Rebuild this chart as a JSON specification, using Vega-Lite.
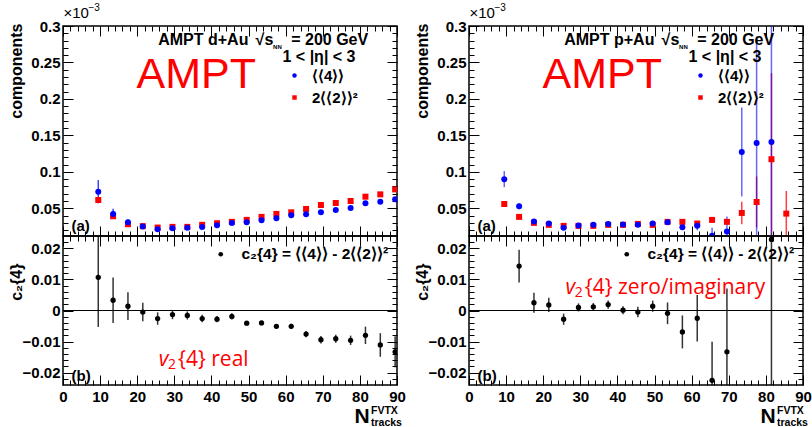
{
  "$schema": "https://vega.github.io/schema/vega-lite/v6.json",
  "padding": {"left": 7, "top": 2, "right": 2, "bottom": 0},
  "background": "white",
  "config": {
    "view": {"stroke": "black", "strokeWidth": 1.5},
    "axis": {"domain": false, "grid": false, "tickColor": "black", "tickWidth": 1, "labelFont": "Liberation Sans", "labelFontWeight": "bold", "labelFontSize": 15, "labelColor": "black", "titleFont": "Liberation Sans", "titleFontWeight": "bold", "titleColor": "black", "labelFlush": false, "labelOverlap": false, "labelBound": false}
  },
  "datasets": {
    "dAuTop": [
      {"n": 9.5, "v": 0.0614, "e": 0.002, "s": "2⟨⟨2⟩⟩²"},
      {"n": 13.5, "v": 0.0391, "e": 0.001, "s": "2⟨⟨2⟩⟩²"},
      {"n": 17.5, "v": 0.0282, "e": 0.001, "s": "2⟨⟨2⟩⟩²"},
      {"n": 21.5, "v": 0.0255, "e": 0.001, "s": "2⟨⟨2⟩⟩²"},
      {"n": 25.5, "v": 0.0236, "e": 0.001, "s": "2⟨⟨2⟩⟩²"},
      {"n": 29.5, "v": 0.0245, "e": 0.001, "s": "2⟨⟨2⟩⟩²"},
      {"n": 33.5, "v": 0.0245, "e": 0.001, "s": "2⟨⟨2⟩⟩²"},
      {"n": 37.5, "v": 0.0273, "e": 0.001, "s": "2⟨⟨2⟩⟩²"},
      {"n": 41.5, "v": 0.0295, "e": 0.001, "s": "2⟨⟨2⟩⟩²"},
      {"n": 45.5, "v": 0.0314, "e": 0.001, "s": "2⟨⟨2⟩⟩²"},
      {"n": 49.5, "v": 0.0341, "e": 0.001, "s": "2⟨⟨2⟩⟩²"},
      {"n": 53.5, "v": 0.0382, "e": 0.001, "s": "2⟨⟨2⟩⟩²"},
      {"n": 57.5, "v": 0.0423, "e": 0.001, "s": "2⟨⟨2⟩⟩²"},
      {"n": 61.5, "v": 0.0445, "e": 0.001, "s": "2⟨⟨2⟩⟩²"},
      {"n": 65.5, "v": 0.0491, "e": 0.001, "s": "2⟨⟨2⟩⟩²"},
      {"n": 69.5, "v": 0.0545, "e": 0.001, "s": "2⟨⟨2⟩⟩²"},
      {"n": 73.5, "v": 0.0573, "e": 0.001, "s": "2⟨⟨2⟩⟩²"},
      {"n": 77.5, "v": 0.06, "e": 0.001, "s": "2⟨⟨2⟩⟩²"},
      {"n": 81.5, "v": 0.0659, "e": 0.001, "s": "2⟨⟨2⟩⟩²"},
      {"n": 85.5, "v": 0.0691, "e": 0.001, "s": "2⟨⟨2⟩⟩²"},
      {"n": 89.5, "v": 0.0759, "e": 0.001, "s": "2⟨⟨2⟩⟩²"},
      {"n": 9.5, "v": 0.0727, "e": 0.016, "s": "⟨⟨4⟩⟩"},
      {"n": 13.5, "v": 0.0423, "e": 0.007, "s": "⟨⟨4⟩⟩"},
      {"n": 17.5, "v": 0.0309, "e": 0.004, "s": "⟨⟨4⟩⟩"},
      {"n": 21.5, "v": 0.025, "e": 0.002, "s": "⟨⟨4⟩⟩"},
      {"n": 25.5, "v": 0.0214, "e": 0.0015, "s": "⟨⟨4⟩⟩"},
      {"n": 29.5, "v": 0.0227, "e": 0.0012, "s": "⟨⟨4⟩⟩"},
      {"n": 33.5, "v": 0.0232, "e": 0.0012, "s": "⟨⟨4⟩⟩"},
      {"n": 37.5, "v": 0.0245, "e": 0.0012, "s": "⟨⟨4⟩⟩"},
      {"n": 41.5, "v": 0.0268, "e": 0.0012, "s": "⟨⟨4⟩⟩"},
      {"n": 45.5, "v": 0.03, "e": 0.0012, "s": "⟨⟨4⟩⟩"},
      {"n": 49.5, "v": 0.0309, "e": 0.0012, "s": "⟨⟨4⟩⟩"},
      {"n": 53.5, "v": 0.0336, "e": 0.0012, "s": "⟨⟨4⟩⟩"},
      {"n": 57.5, "v": 0.0364, "e": 0.0012, "s": "⟨⟨4⟩⟩"},
      {"n": 61.5, "v": 0.0405, "e": 0.0012, "s": "⟨⟨4⟩⟩"},
      {"n": 65.5, "v": 0.0418, "e": 0.0012, "s": "⟨⟨4⟩⟩"},
      {"n": 69.5, "v": 0.0445, "e": 0.0012, "s": "⟨⟨4⟩⟩"},
      {"n": 73.5, "v": 0.0477, "e": 0.0012, "s": "⟨⟨4⟩⟩"},
      {"n": 77.5, "v": 0.0505, "e": 0.0012, "s": "⟨⟨4⟩⟩"},
      {"n": 81.5, "v": 0.0568, "e": 0.0015, "s": "⟨⟨4⟩⟩"},
      {"n": 85.5, "v": 0.0591, "e": 0.0015, "s": "⟨⟨4⟩⟩"},
      {"n": 89.5, "v": 0.0623, "e": 0.003, "s": "⟨⟨4⟩⟩"}
    ],
    "pAuTop": [
      {"n": 9.5, "v": 0.0559, "e": 0.001, "s": "2⟨⟨2⟩⟩²"},
      {"n": 13.5, "v": 0.0382, "e": 0.001, "s": "2⟨⟨2⟩⟩²"},
      {"n": 17.5, "v": 0.03, "e": 0.001, "s": "2⟨⟨2⟩⟩²"},
      {"n": 21.5, "v": 0.0273, "e": 0.001, "s": "2⟨⟨2⟩⟩²"},
      {"n": 25.5, "v": 0.0259, "e": 0.001, "s": "2⟨⟨2⟩⟩²"},
      {"n": 29.5, "v": 0.0259, "e": 0.001, "s": "2⟨⟨2⟩⟩²"},
      {"n": 33.5, "v": 0.0259, "e": 0.001, "s": "2⟨⟨2⟩⟩²"},
      {"n": 37.5, "v": 0.0273, "e": 0.001, "s": "2⟨⟨2⟩⟩²"},
      {"n": 41.5, "v": 0.0273, "e": 0.001, "s": "2⟨⟨2⟩⟩²"},
      {"n": 45.5, "v": 0.0286, "e": 0.001, "s": "2⟨⟨2⟩⟩²"},
      {"n": 49.5, "v": 0.0273, "e": 0.001, "s": "2⟨⟨2⟩⟩²"},
      {"n": 53.5, "v": 0.0314, "e": 0.001, "s": "2⟨⟨2⟩⟩²"},
      {"n": 57.5, "v": 0.0314, "e": 0.001, "s": "2⟨⟨2⟩⟩²"},
      {"n": 61.5, "v": 0.0291, "e": 0.002, "s": "2⟨⟨2⟩⟩²"},
      {"n": 65.5, "v": 0.0341, "e": 0.002, "s": "2⟨⟨2⟩⟩²"},
      {"n": 69.5, "v": 0.0314, "e": 0.003, "s": "2⟨⟨2⟩⟩²"},
      {"n": 73.5, "v": 0.0436, "e": 0.0155, "s": "2⟨⟨2⟩⟩²"},
      {"n": 77.5, "v": 0.0586, "e": 0.035, "s": "2⟨⟨2⟩⟩²"},
      {"n": 81.5, "v": 0.1173, "e": 0.118, "s": "2⟨⟨2⟩⟩²"},
      {"n": 85.5, "v": 0.0427, "e": 0.031, "s": "2⟨⟨2⟩⟩²"},
      {"n": 9.5, "v": 0.09, "e": 0.011, "s": "⟨⟨4⟩⟩"},
      {"n": 13.5, "v": 0.0527, "e": 0.004, "s": "⟨⟨4⟩⟩"},
      {"n": 17.5, "v": 0.0318, "e": 0.002, "s": "⟨⟨4⟩⟩"},
      {"n": 21.5, "v": 0.0291, "e": 0.002, "s": "⟨⟨4⟩⟩"},
      {"n": 25.5, "v": 0.0232, "e": 0.002, "s": "⟨⟨4⟩⟩"},
      {"n": 29.5, "v": 0.0264, "e": 0.002, "s": "⟨⟨4⟩⟩"},
      {"n": 33.5, "v": 0.0273, "e": 0.002, "s": "⟨⟨4⟩⟩"},
      {"n": 37.5, "v": 0.0286, "e": 0.002, "s": "⟨⟨4⟩⟩"},
      {"n": 41.5, "v": 0.0277, "e": 0.002, "s": "⟨⟨4⟩⟩"},
      {"n": 45.5, "v": 0.0273, "e": 0.003, "s": "⟨⟨4⟩⟩"},
      {"n": 49.5, "v": 0.0291, "e": 0.002, "s": "⟨⟨4⟩⟩"},
      {"n": 53.5, "v": 0.0309, "e": 0.002, "s": "⟨⟨4⟩⟩"},
      {"n": 57.5, "v": 0.0241, "e": 0.004, "s": "⟨⟨4⟩⟩"},
      {"n": 61.5, "v": 0.0259, "e": 0.006, "s": "⟨⟨4⟩⟩"},
      {"n": 65.5, "v": 0.0123, "e": 0.011, "s": "⟨⟨4⟩⟩"},
      {"n": 69.5, "v": 0.0182, "e": 0.0205, "s": "⟨⟨4⟩⟩"},
      {"n": 73.5, "v": 0.1273, "e": 0.061, "s": "⟨⟨4⟩⟩"},
      {"n": 77.5, "v": 0.1395, "e": 0.146, "s": "⟨⟨4⟩⟩"},
      {"n": 81.5, "v": 0.1409, "e": 0.3, "s": "⟨⟨4⟩⟩"}
    ],
    "dAuBot": [
      {"n": 9.5, "c": 0.0107, "e": 0.016},
      {"n": 13.5, "c": 0.0033, "e": 0.0073},
      {"n": 17.5, "c": 0.0014, "e": 0.0045},
      {"n": 21.5, "c": -0.0005, "e": 0.003},
      {"n": 25.5, "c": -0.0026, "e": 0.002},
      {"n": 29.5, "c": -0.0013, "e": 0.0015},
      {"n": 33.5, "c": -0.0016, "e": 0.0013},
      {"n": 37.5, "c": -0.0026, "e": 0.0012},
      {"n": 41.5, "c": -0.0028, "e": 0.001},
      {"n": 45.5, "c": -0.0019, "e": 0.001},
      {"n": 49.5, "c": -0.0041, "e": 0.0007},
      {"n": 53.5, "c": -0.004, "e": 0.0007},
      {"n": 57.5, "c": -0.0051, "e": 0.0007},
      {"n": 61.5, "c": -0.0051, "e": 0.0008},
      {"n": 65.5, "c": -0.0076, "e": 0.001},
      {"n": 69.5, "c": -0.0094, "e": 0.0012},
      {"n": 73.5, "c": -0.0091, "e": 0.0013},
      {"n": 77.5, "c": -0.0096, "e": 0.0015},
      {"n": 81.5, "c": -0.008, "e": 0.0028},
      {"n": 85.5, "c": -0.0111, "e": 0.0038},
      {"n": 89.5, "c": -0.0133, "e": 0.005}
    ],
    "pAuBot": [
      {"n": 13.5, "c": 0.0143, "e": 0.0053},
      {"n": 17.5, "c": 0.0025, "e": 0.0032},
      {"n": 21.5, "c": 0.0018, "e": 0.0023},
      {"n": 25.5, "c": -0.0028, "e": 0.0018},
      {"n": 29.5, "c": 0.001, "e": 0.0013},
      {"n": 33.5, "c": 0.0012, "e": 0.0012},
      {"n": 37.5, "c": 0.0019, "e": 0.0013},
      {"n": 41.5, "c": 0.0001, "e": 0.0013},
      {"n": 45.5, "c": -0.0005, "e": 0.0017},
      {"n": 49.5, "c": 0.0014, "e": 0.0018},
      {"n": 53.5, "c": -0.0009, "e": 0.0035},
      {"n": 57.5, "c": -0.0069, "e": 0.0053},
      {"n": 61.5, "c": -0.0025, "e": 0.0075},
      {"n": 65.5, "c": -0.0225, "e": 0.0124},
      {"n": 69.5, "c": -0.0133, "e": 0.0204},
      {"n": 81.5, "c": 0.0229, "e": 0.1}
    ]
  },
  "resolve": {"scale": {"color": "independent", "shape": "independent"}, "legend": {"color": "independent", "shape": "independent"}},
  "columns": 2,
  "spacing": {"row": 0, "column": 72},
  "bounds": "flush",
  "align": "each",
  "concat": [
    {
      "width": 334, "height": 210,
      "data": {"name": "dAuTop"},
      "resolve": {"axis": {"x": "independent", "y": "independent"}},
      "layer": [
        {
          "transform": [{"filter": {"field": "s", "equal": "2⟨⟨2⟩⟩²"}}],
          "mark": {"type": "errorbar", "clip": true, "thickness": 1.5, "opacity": 0.75, "color": "#ff0000"},
          "encoding": {
            "x": {"field": "n", "type": "quantitative", "scale": {"domain": [0, 90], "nice": false, "zero": false}, "axis": {"orient": "bottom", "values": [0,10,20,30,40,50,60,70,80,90], "tickSize": -10, "labels": false, "title": null}},
            "y": {"field": "v", "type": "quantitative", "scale": {"domain": [0.012, 0.3], "nice": false, "zero": false}, "axis": {"orient": "left", "values": [0.05,0.1,0.15,0.2,0.25,0.3], "tickSize": -10, "labelPadding": 13, "format": "~g", "title": "components", "titleAngle": 270, "titleAlign": "right", "titleBaseline": "alphabetic", "titleX": -41.5, "titleY": -3, "titleFontSize": 16}},
            "yError": {"field": "e"}
          }
        },
        {
          "transform": [{"filter": {"field": "s", "equal": "⟨⟨4⟩⟩"}}],
          "mark": {"type": "errorbar", "clip": true, "thickness": 1.5, "opacity": 0.75, "color": "#0000ff"},
          "encoding": {
            "x": {"field": "n", "type": "quantitative", "axis": null},
            "y": {"field": "v", "type": "quantitative", "axis": null},
            "yError": {"field": "e"}
          }
        },
        {
          "mark": {"type": "point", "filled": true, "size": 36, "opacity": 1, "clip": true},
          "encoding": {
            "x": {"field": "n", "type": "quantitative", "axis": {"orient": "bottom", "values": [2,4,6,8,12,14,16,18,22,24,26,28,32,34,36,38,42,44,46,48,52,54,56,58,62,64,66,68,72,74,76,78,82,84,86,88], "tickSize": -5, "labels": false, "title": null}},
            "y": {"field": "v", "type": "quantitative", "axis": {"orient": "left", "values": [0.02,0.03,0.04,0.06,0.07,0.08,0.09,0.11,0.12,0.13,0.14,0.16,0.17,0.18,0.19,0.21,0.22,0.23,0.24,0.26,0.27,0.28,0.29], "tickSize": -5, "labels": false, "title": null}},
            "color": {"field": "s", "type": "nominal", "scale": {"domain": ["⟨⟨4⟩⟩", "2⟨⟨2⟩⟩²"], "range": ["#0000ff", "#ff0000"]}, "legend": {"title": null, "orient": "none", "legendX": 224, "legendY": 42, "labelFont": "Liberation Sans", "labelFontWeight": "bold", "labelFontSize": 15, "labelColor": "black", "symbolSize": 20, "rowPadding": 6, "labelOffset": 10, "padding": 0, "labelLimit": 300, "symbolStrokeWidth": 0}},
            "shape": {"field": "s", "type": "nominal", "scale": {"domain": ["⟨⟨4⟩⟩", "2⟨⟨2⟩⟩²"], "range": ["circle", "square"]}, "legend": {"title": null, "orient": "none", "legendX": 224, "legendY": 42, "labelFont": "Liberation Sans", "labelFontWeight": "bold", "labelFontSize": 15, "labelColor": "black", "symbolSize": 20, "rowPadding": 6, "labelOffset": 10, "padding": 0, "labelLimit": 300, "symbolStrokeWidth": 0}}
          }
        },
        {
          "mark": {"type": "point", "opacity": 0},
          "encoding": {
            "x": {"field": "n", "type": "quantitative", "axis": {"orient": "top", "values": [0,10,20,30,40,50,60,70,80,90], "tickSize": -10, "labels": false, "title": null}},
            "y": {"field": "v", "type": "quantitative", "axis": {"orient": "right", "values": [0.05,0.1,0.15,0.2,0.25,0.3], "tickSize": -10, "labels": false, "title": null}}
          }
        },
        {
          "mark": {"type": "point", "opacity": 0},
          "encoding": {
            "x": {"field": "n", "type": "quantitative", "axis": {"orient": "top", "values": [2,4,6,8,12,14,16,18,22,24,26,28,32,34,36,38,42,44,46,48,52,54,56,58,62,64,66,68,72,74,76,78,82,84,86,88], "tickSize": -5, "labels": false, "title": null}},
            "y": {"field": "v", "type": "quantitative", "axis": {"orient": "right", "values": [0.02,0.03,0.04,0.06,0.07,0.08,0.09,0.11,0.12,0.13,0.14,0.16,0.17,0.18,0.19,0.21,0.22,0.23,0.24,0.26,0.27,0.28,0.29], "tickSize": -5, "labels": false, "title": null}}
          }
        },
        {"data": {"values": [{}]}, "mark": {"type": "text", "text": "AMPT d+Au", "font": "Liberation Sans", "fontWeight": "bold", "fontSize": 16, "align": "left", "baseline": "alphabetic", "color": "black"},
         "encoding": {"x": {"datum": 25.65, "type": "quantitative", "axis": null}, "y": {"datum": 0.2739, "type": "quantitative", "axis": null}}},
        {"data": {"values": [{}]}, "mark": {"type": "text", "text": "√s", "font": "Liberation Sans", "fontWeight": "bold", "fontSize": 16, "align": "left", "baseline": "alphabetic", "color": "black"},
         "encoding": {"x": {"datum": 51.9, "type": "quantitative", "axis": null}, "y": {"datum": 0.2739, "type": "quantitative", "axis": null}}},
        {"data": {"values": [{}]}, "mark": {"type": "text", "text": "NN", "font": "Liberation Sans", "fontWeight": "bold", "fontSize": 6, "align": "left", "baseline": "alphabetic", "color": "black"},
         "encoding": {"x": {"datum": 56.6, "type": "quantitative", "axis": null}, "y": {"datum": 0.2691, "type": "quantitative", "axis": null}}},
        {"data": {"values": [{}]}, "mark": {"type": "text", "text": "= 200 GeV", "font": "Liberation Sans", "fontWeight": "bold", "fontSize": 16, "align": "right", "baseline": "alphabetic", "color": "black"},
         "encoding": {"x": {"datum": 82.24, "type": "quantitative", "axis": null}, "y": {"datum": 0.2739, "type": "quantitative", "axis": null}}},
        {"data": {"values": [{}]}, "mark": {"type": "text", "text": "1 < |η| < 3", "font": "Liberation Sans", "fontWeight": "bold", "fontSize": 16, "align": "center", "baseline": "alphabetic", "color": "black"},
         "encoding": {"x": {"datum": 68.98, "type": "quantitative", "axis": null}, "y": {"datum": 0.2506, "type": "quantitative", "axis": null}}},
        {"data": {"values": [{}]}, "mark": {"type": "text", "text": "AMPT", "font": "Liberation Sans", "fontSize": 43, "align": "left", "baseline": "alphabetic", "color": "#ff0000"},
         "encoding": {"x": {"datum": 19.8, "type": "quantitative", "axis": null}, "y": {"datum": 0.2154, "type": "quantitative", "axis": null}}},
        {"data": {"values": [{}]}, "mark": {"type": "text", "text": "×10", "font": "Liberation Sans", "fontSize": 15, "align": "left", "baseline": "alphabetic", "color": "black"},
         "encoding": {"x": {"datum": 0.13, "type": "quantitative", "axis": null}, "y": {"datum": 0.311, "type": "quantitative", "axis": null}}},
        {"data": {"values": [{}]}, "mark": {"type": "text", "text": "−3", "font": "Liberation Sans", "fontSize": 10, "align": "left", "baseline": "alphabetic", "color": "black"},
         "encoding": {"x": {"datum": 6.87, "type": "quantitative", "axis": null}, "y": {"datum": 0.3206, "type": "quantitative", "axis": null}}},
        {"data": {"values": [{}]}, "mark": {"type": "text", "text": "(a)", "font": "Liberation Sans", "fontWeight": "bold", "fontSize": 15, "align": "left", "baseline": "alphabetic", "color": "black"},
         "encoding": {"x": {"datum": 2.29, "type": "quantitative", "axis": null}, "y": {"datum": 0.0188, "type": "quantitative", "axis": null}}}
      ]
    },
    {
      "width": 334, "height": 210,
      "data": {"name": "pAuTop"},
      "resolve": {"axis": {"x": "independent", "y": "independent"}},
      "layer": [
        {
          "transform": [{"filter": {"field": "s", "equal": "2⟨⟨2⟩⟩²"}}],
          "mark": {"type": "errorbar", "clip": true, "thickness": 1.5, "opacity": 0.75, "color": "#ff0000"},
          "encoding": {
            "x": {"field": "n", "type": "quantitative", "scale": {"domain": [0, 90], "nice": false, "zero": false}, "axis": {"orient": "bottom", "values": [0,10,20,30,40,50,60,70,80,90], "tickSize": -10, "labels": false, "title": null}},
            "y": {"field": "v", "type": "quantitative", "scale": {"domain": [0.012, 0.3], "nice": false, "zero": false}, "axis": {"orient": "left", "values": [0.05,0.1,0.15,0.2,0.25,0.3], "tickSize": -10, "labelPadding": 13, "format": "~g", "title": "components", "titleAngle": 270, "titleAlign": "right", "titleBaseline": "alphabetic", "titleX": -41.5, "titleY": -3, "titleFontSize": 16}},
            "yError": {"field": "e"}
          }
        },
        {
          "transform": [{"filter": {"field": "s", "equal": "⟨⟨4⟩⟩"}}],
          "mark": {"type": "errorbar", "clip": true, "thickness": 1.5, "opacity": 0.6, "color": "#0000ff"},
          "encoding": {
            "x": {"field": "n", "type": "quantitative", "axis": null},
            "y": {"field": "v", "type": "quantitative", "axis": null},
            "yError": {"field": "e"}
          }
        },
        {
          "mark": {"type": "point", "filled": true, "size": 36, "opacity": 1, "clip": true},
          "encoding": {
            "x": {"field": "n", "type": "quantitative", "axis": {"orient": "bottom", "values": [2,4,6,8,12,14,16,18,22,24,26,28,32,34,36,38,42,44,46,48,52,54,56,58,62,64,66,68,72,74,76,78,82,84,86,88], "tickSize": -5, "labels": false, "title": null}},
            "y": {"field": "v", "type": "quantitative", "axis": {"orient": "left", "values": [0.02,0.03,0.04,0.06,0.07,0.08,0.09,0.11,0.12,0.13,0.14,0.16,0.17,0.18,0.19,0.21,0.22,0.23,0.24,0.26,0.27,0.28,0.29], "tickSize": -5, "labels": false, "title": null}},
            "color": {"field": "s", "type": "nominal", "scale": {"domain": ["⟨⟨4⟩⟩", "2⟨⟨2⟩⟩²"], "range": ["#0000ff", "#ff0000"]}, "legend": {"title": null, "orient": "none", "legendX": 224, "legendY": 42, "labelFont": "Liberation Sans", "labelFontWeight": "bold", "labelFontSize": 15, "labelColor": "black", "symbolSize": 20, "rowPadding": 6, "labelOffset": 10, "padding": 0, "labelLimit": 300, "symbolStrokeWidth": 0}},
            "shape": {"field": "s", "type": "nominal", "scale": {"domain": ["⟨⟨4⟩⟩", "2⟨⟨2⟩⟩²"], "range": ["circle", "square"]}, "legend": {"title": null, "orient": "none", "legendX": 224, "legendY": 42, "labelFont": "Liberation Sans", "labelFontWeight": "bold", "labelFontSize": 15, "labelColor": "black", "symbolSize": 20, "rowPadding": 6, "labelOffset": 10, "padding": 0, "labelLimit": 300, "symbolStrokeWidth": 0}}
          }
        },
        {
          "mark": {"type": "point", "opacity": 0},
          "encoding": {
            "x": {"field": "n", "type": "quantitative", "axis": {"orient": "top", "values": [0,10,20,30,40,50,60,70,80,90], "tickSize": -10, "labels": false, "title": null}},
            "y": {"field": "v", "type": "quantitative", "axis": {"orient": "right", "values": [0.05,0.1,0.15,0.2,0.25,0.3], "tickSize": -10, "labels": false, "title": null}}
          }
        },
        {
          "mark": {"type": "point", "opacity": 0},
          "encoding": {
            "x": {"field": "n", "type": "quantitative", "axis": {"orient": "top", "values": [2,4,6,8,12,14,16,18,22,24,26,28,32,34,36,38,42,44,46,48,52,54,56,58,62,64,66,68,72,74,76,78,82,84,86,88], "tickSize": -5, "labels": false, "title": null}},
            "y": {"field": "v", "type": "quantitative", "axis": {"orient": "right", "values": [0.02,0.03,0.04,0.06,0.07,0.08,0.09,0.11,0.12,0.13,0.14,0.16,0.17,0.18,0.19,0.21,0.22,0.23,0.24,0.26,0.27,0.28,0.29], "tickSize": -5, "labels": false, "title": null}}
          }
        },
        {"data": {"values": [{}]}, "mark": {"type": "text", "text": "AMPT p+Au", "font": "Liberation Sans", "fontWeight": "bold", "fontSize": 16, "align": "left", "baseline": "alphabetic", "color": "black"},
         "encoding": {"x": {"datum": 25.65, "type": "quantitative", "axis": null}, "y": {"datum": 0.2739, "type": "quantitative", "axis": null}}},
        {"data": {"values": [{}]}, "mark": {"type": "text", "text": "√s", "font": "Liberation Sans", "fontWeight": "bold", "fontSize": 16, "align": "left", "baseline": "alphabetic", "color": "black"},
         "encoding": {"x": {"datum": 51.9, "type": "quantitative", "axis": null}, "y": {"datum": 0.2739, "type": "quantitative", "axis": null}}},
        {"data": {"values": [{}]}, "mark": {"type": "text", "text": "NN", "font": "Liberation Sans", "fontWeight": "bold", "fontSize": 6, "align": "left", "baseline": "alphabetic", "color": "black"},
         "encoding": {"x": {"datum": 56.6, "type": "quantitative", "axis": null}, "y": {"datum": 0.2691, "type": "quantitative", "axis": null}}},
        {"data": {"values": [{}]}, "mark": {"type": "text", "text": "= 200 GeV", "font": "Liberation Sans", "fontWeight": "bold", "fontSize": 16, "align": "right", "baseline": "alphabetic", "color": "black"},
         "encoding": {"x": {"datum": 82.24, "type": "quantitative", "axis": null}, "y": {"datum": 0.2739, "type": "quantitative", "axis": null}}},
        {"data": {"values": [{}]}, "mark": {"type": "text", "text": "1 < |η| < 3", "font": "Liberation Sans", "fontWeight": "bold", "fontSize": 16, "align": "center", "baseline": "alphabetic", "color": "black"},
         "encoding": {"x": {"datum": 68.98, "type": "quantitative", "axis": null}, "y": {"datum": 0.2506, "type": "quantitative", "axis": null}}},
        {"data": {"values": [{}]}, "mark": {"type": "text", "text": "AMPT", "font": "Liberation Sans", "fontSize": 43, "align": "left", "baseline": "alphabetic", "color": "#ff0000"},
         "encoding": {"x": {"datum": 19.8, "type": "quantitative", "axis": null}, "y": {"datum": 0.2154, "type": "quantitative", "axis": null}}},
        {"data": {"values": [{}]}, "mark": {"type": "text", "text": "×10", "font": "Liberation Sans", "fontSize": 15, "align": "left", "baseline": "alphabetic", "color": "black"},
         "encoding": {"x": {"datum": 0.13, "type": "quantitative", "axis": null}, "y": {"datum": 0.311, "type": "quantitative", "axis": null}}},
        {"data": {"values": [{}]}, "mark": {"type": "text", "text": "−3", "font": "Liberation Sans", "fontSize": 10, "align": "left", "baseline": "alphabetic", "color": "black"},
         "encoding": {"x": {"datum": 6.87, "type": "quantitative", "axis": null}, "y": {"datum": 0.3206, "type": "quantitative", "axis": null}}},
        {"data": {"values": [{}]}, "mark": {"type": "text", "text": "(a)", "font": "Liberation Sans", "fontWeight": "bold", "fontSize": 15, "align": "left", "baseline": "alphabetic", "color": "black"},
         "encoding": {"x": {"datum": 2.29, "type": "quantitative", "axis": null}, "y": {"datum": 0.0188, "type": "quantitative", "axis": null}}}
      ]
    },
    {
      "width": 334, "height": 149,
      "data": {"name": "dAuBot"},
      "resolve": {"axis": {"x": "independent", "y": "independent"}},
      "layer": [
        {"data": {"values": [{}]}, "mark": {"type": "rule", "color": "black", "strokeWidth": 1},
         "encoding": {"y": {"datum": 0, "type": "quantitative", "axis": null}}},
        {
          "mark": {"type": "errorbar", "clip": true, "thickness": 1.5, "color": "black", "opacity": 0.8},
          "encoding": {
            "x": {"field": "n", "type": "quantitative", "scale": {"domain": [0, 90], "nice": false, "zero": false}, "axis": {"orient": "bottom", "values": [0,10,20,30,40,50,60,70,80,90], "tickSize": -10, "labelPadding": 14, "title": "N", "titleX": 291, "titleY": 37.5, "titleAlign": "left", "titleBaseline": "alphabetic", "titleFontSize": 21}},
            "y": {"field": "c", "type": "quantitative", "scale": {"domain": [-0.024, 0.024], "nice": false, "zero": false}, "axis": {"orient": "left", "values": [-0.02,-0.01,0,0.01,0.02], "tickSize": -10, "labelPadding": 13, "format": "~g", "title": "c₂{4}", "titleAngle": 270, "titleAlign": "right", "titleBaseline": "alphabetic", "titleX": -41.5, "titleY": 27, "titleFontSize": 16}},
            "yError": {"field": "e"}
          }
        },
        {
          "mark": {"type": "point", "filled": true, "size": 28, "opacity": 1, "clip": true},
          "encoding": {
            "x": {"field": "n", "type": "quantitative", "axis": {"orient": "bottom", "values": [2,4,6,8,12,14,16,18,22,24,26,28,32,34,36,38,42,44,46,48,52,54,56,58,62,64,66,68,72,74,76,78,82,84,86,88], "tickSize": -5, "labels": false, "title": null}},
            "y": {"field": "c", "type": "quantitative", "axis": {"orient": "left", "values": [-0.022,-0.018,-0.016,-0.014,-0.012,-0.008,-0.006,-0.004,-0.002,0.002,0.004,0.006,0.008,0.012,0.014,0.016,0.018,0.022], "tickSize": -5, "labels": false, "title": null}},
            "color": {"datum": "c₂{4} = ⟨⟨4⟩⟩ - 2⟨⟨2⟩⟩²", "scale": {"range": ["black"]}, "legend": {"title": null, "orient": "none", "legendX": 150, "legendY": 10.5, "labelFont": "Liberation Sans", "labelFontWeight": "bold", "labelFontSize": 15.5, "labelColor": "black", "symbolSize": 22, "labelOffset": 13, "padding": 0, "labelLimit": 400, "symbolStrokeWidth": 0, "symbolType": "circle"}}
          }
        },
        {
          "mark": {"type": "point", "opacity": 0},
          "encoding": {
            "x": {"field": "n", "type": "quantitative", "axis": {"orient": "top", "values": [0,10,20,30,40,50,60,70,80,90], "tickSize": -10, "labels": false, "title": null}},
            "y": {"field": "c", "type": "quantitative", "axis": {"orient": "right", "values": [-0.02,-0.01,0,0.01,0.02], "tickSize": -10, "labels": false, "title": null}}
          }
        },
        {
          "mark": {"type": "point", "opacity": 0},
          "encoding": {
            "x": {"field": "n", "type": "quantitative", "axis": {"orient": "top", "values": [2,4,6,8,12,14,16,18,22,24,26,28,32,34,36,38,42,44,46,48,52,54,56,58,62,64,66,68,72,74,76,78,82,84,86,88], "tickSize": -5, "labels": false, "title": null}},
            "y": {"field": "c", "type": "quantitative", "axis": {"orient": "right", "values": [-0.022,-0.018,-0.016,-0.014,-0.012,-0.008,-0.006,-0.004,-0.002,0.002,0.004,0.006,0.008,0.012,0.014,0.016,0.018,0.022], "tickSize": -5, "labels": false, "title": null}}
          }
        },
        {"data": {"values": [{}]}, "mark": {"type": "text", "text": "(b)", "font": "Liberation Sans", "fontWeight": "bold", "fontSize": 15, "align": "left", "baseline": "alphabetic", "color": "black"},
         "encoding": {"x": {"datum": 2.29, "type": "quantitative", "axis": null}, "y": {"datum": -0.0227, "type": "quantitative", "axis": null}}},
        {"data": {"values": [{}]}, "mark": {"type": "text", "text": "v", "font": "Open Sans", "fontStyle": "italic", "fontSize": 21, "align": "left", "baseline": "alphabetic", "color": "#ff0000"},
         "encoding": {"x": {"datum": 25.8, "type": "quantitative", "axis": null}, "y": {"datum": -0.0179, "type": "quantitative", "axis": null}}},
        {"data": {"values": [{}]}, "mark": {"type": "text", "text": "2", "font": "Open Sans", "fontSize": 14, "align": "left", "baseline": "alphabetic", "color": "#ff0000"},
         "encoding": {"x": {"datum": 28.3, "type": "quantitative", "axis": null}, "y": {"datum": -0.0189, "type": "quantitative", "axis": null}}},
        {"data": {"values": [{}]}, "mark": {"type": "text", "text": "{4}  real", "font": "Open Sans", "fontSize": 21, "align": "left", "baseline": "alphabetic", "color": "#ff0000"},
         "encoding": {"x": {"datum": 31.0, "type": "quantitative", "axis": null}, "y": {"datum": -0.0179, "type": "quantitative", "axis": null}}},
        {"data": {"values": [{}]}, "mark": {"type": "text", "text": "FVTX", "font": "Liberation Sans", "fontWeight": "bold", "fontSize": 10.5, "align": "left", "baseline": "alphabetic", "color": "black"},
         "encoding": {"x": {"datum": 83.0, "type": "quantitative", "axis": null}, "y": {"datum": -0.0332, "type": "quantitative", "axis": null}}},
        {"data": {"values": [{}]}, "mark": {"type": "text", "text": "tracks", "font": "Liberation Sans", "fontWeight": "bold", "fontSize": 10.5, "align": "left", "baseline": "alphabetic", "color": "black"},
         "encoding": {"x": {"datum": 83.0, "type": "quantitative", "axis": null}, "y": {"datum": -0.0372, "type": "quantitative", "axis": null}}}
      ]
    },
    {
      "width": 334, "height": 149,
      "data": {"name": "pAuBot"},
      "resolve": {"axis": {"x": "independent", "y": "independent"}},
      "layer": [
        {"data": {"values": [{}]}, "mark": {"type": "rule", "color": "black", "strokeWidth": 1},
         "encoding": {"y": {"datum": 0, "type": "quantitative", "axis": null}}},
        {
          "mark": {"type": "errorbar", "clip": true, "thickness": 1.5, "color": "black", "opacity": 0.8},
          "encoding": {
            "x": {"field": "n", "type": "quantitative", "scale": {"domain": [0, 90], "nice": false, "zero": false}, "axis": {"orient": "bottom", "values": [0,10,20,30,40,50,60,70,80,90], "tickSize": -10, "labelPadding": 14, "title": "N", "titleX": 291, "titleY": 37.5, "titleAlign": "left", "titleBaseline": "alphabetic", "titleFontSize": 21}},
            "y": {"field": "c", "type": "quantitative", "scale": {"domain": [-0.024, 0.024], "nice": false, "zero": false}, "axis": {"orient": "left", "values": [-0.02,-0.01,0,0.01,0.02], "tickSize": -10, "labelPadding": 13, "format": "~g", "title": "c₂{4}", "titleAngle": 270, "titleAlign": "right", "titleBaseline": "alphabetic", "titleX": -41.5, "titleY": 27, "titleFontSize": 16}},
            "yError": {"field": "e"}
          }
        },
        {
          "mark": {"type": "point", "filled": true, "size": 28, "opacity": 1, "clip": true},
          "encoding": {
            "x": {"field": "n", "type": "quantitative", "axis": {"orient": "bottom", "values": [2,4,6,8,12,14,16,18,22,24,26,28,32,34,36,38,42,44,46,48,52,54,56,58,62,64,66,68,72,74,76,78,82,84,86,88], "tickSize": -5, "labels": false, "title": null}},
            "y": {"field": "c", "type": "quantitative", "axis": {"orient": "left", "values": [-0.022,-0.018,-0.016,-0.014,-0.012,-0.008,-0.006,-0.004,-0.002,0.002,0.004,0.006,0.008,0.012,0.014,0.016,0.018,0.022], "tickSize": -5, "labels": false, "title": null}},
            "color": {"datum": "c₂{4} = ⟨⟨4⟩⟩ - 2⟨⟨2⟩⟩²", "scale": {"range": ["black"]}, "legend": {"title": null, "orient": "none", "legendX": 150, "legendY": 10.5, "labelFont": "Liberation Sans", "labelFontWeight": "bold", "labelFontSize": 15.5, "labelColor": "black", "symbolSize": 22, "labelOffset": 13, "padding": 0, "labelLimit": 400, "symbolStrokeWidth": 0, "symbolType": "circle"}}
          }
        },
        {
          "mark": {"type": "point", "opacity": 0},
          "encoding": {
            "x": {"field": "n", "type": "quantitative", "axis": {"orient": "top", "values": [0,10,20,30,40,50,60,70,80,90], "tickSize": -10, "labels": false, "title": null}},
            "y": {"field": "c", "type": "quantitative", "axis": {"orient": "right", "values": [-0.02,-0.01,0,0.01,0.02], "tickSize": -10, "labels": false, "title": null}}
          }
        },
        {
          "mark": {"type": "point", "opacity": 0},
          "encoding": {
            "x": {"field": "n", "type": "quantitative", "axis": {"orient": "top", "values": [2,4,6,8,12,14,16,18,22,24,26,28,32,34,36,38,42,44,46,48,52,54,56,58,62,64,66,68,72,74,76,78,82,84,86,88], "tickSize": -5, "labels": false, "title": null}},
            "y": {"field": "c", "type": "quantitative", "axis": {"orient": "right", "values": [-0.022,-0.018,-0.016,-0.014,-0.012,-0.008,-0.006,-0.004,-0.002,0.002,0.004,0.006,0.008,0.012,0.014,0.016,0.018,0.022], "tickSize": -5, "labels": false, "title": null}}
          }
        },
        {"data": {"values": [{}]}, "mark": {"type": "text", "text": "(b)", "font": "Liberation Sans", "fontWeight": "bold", "fontSize": 15, "align": "left", "baseline": "alphabetic", "color": "black"},
         "encoding": {"x": {"datum": 2.29, "type": "quantitative", "axis": null}, "y": {"datum": -0.0227, "type": "quantitative", "axis": null}}},
        {"data": {"values": [{}]}, "mark": {"type": "text", "text": "v", "font": "Open Sans", "fontStyle": "italic", "fontSize": 21, "align": "left", "baseline": "alphabetic", "color": "#ff0000"},
         "encoding": {"x": {"datum": 26.0, "type": "quantitative", "axis": null}, "y": {"datum": 0.0054, "type": "quantitative", "axis": null}}},
        {"data": {"values": [{}]}, "mark": {"type": "text", "text": "2", "font": "Open Sans", "fontSize": 14, "align": "left", "baseline": "alphabetic", "color": "#ff0000"},
         "encoding": {"x": {"datum": 28.5, "type": "quantitative", "axis": null}, "y": {"datum": 0.0044, "type": "quantitative", "axis": null}}},
        {"data": {"values": [{}]}, "mark": {"type": "text", "text": "{4}  zero/imaginary", "font": "Open Sans", "fontSize": 21, "align": "left", "baseline": "alphabetic", "color": "#ff0000"},
         "encoding": {"x": {"datum": 31.2, "type": "quantitative", "axis": null}, "y": {"datum": 0.0054, "type": "quantitative", "axis": null}}},
        {"data": {"values": [{}]}, "mark": {"type": "text", "text": "FVTX", "font": "Liberation Sans", "fontWeight": "bold", "fontSize": 10.5, "align": "left", "baseline": "alphabetic", "color": "black"},
         "encoding": {"x": {"datum": 83.0, "type": "quantitative", "axis": null}, "y": {"datum": -0.0332, "type": "quantitative", "axis": null}}},
        {"data": {"values": [{}]}, "mark": {"type": "text", "text": "tracks", "font": "Liberation Sans", "fontWeight": "bold", "fontSize": 10.5, "align": "left", "baseline": "alphabetic", "color": "black"},
         "encoding": {"x": {"datum": 83.0, "type": "quantitative", "axis": null}, "y": {"datum": -0.0372, "type": "quantitative", "axis": null}}}
      ]
    }
  ]
}
